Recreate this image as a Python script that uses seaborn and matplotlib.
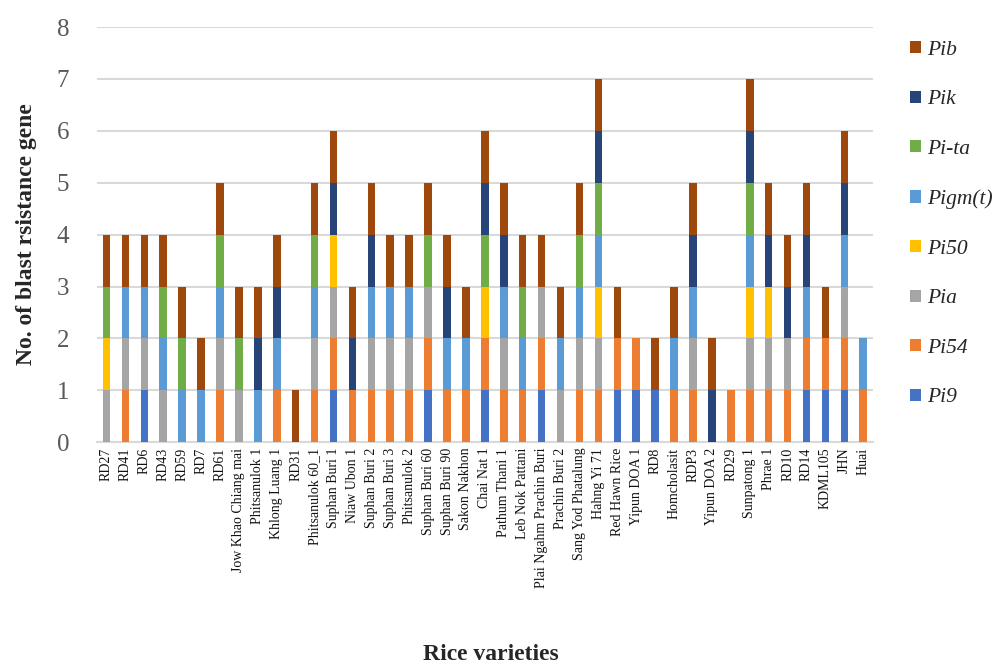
import matplotlib
matplotlib.use("Agg")
import matplotlib.pyplot as plt
from matplotlib.patches import Patch
import seaborn as sns
import pandas as pd
import numpy as np

varieties = ["RD27", "RD41", "RD6", "RD43", "RD59", "RD7", "RD61",
             "Jow Khao Chiang mai", "Phitsanulok 1", "Khlong Luang 1", "RD31",
             "Phitsanulok 60_1", "Suphan Buri 1", "Niaw Ubon 1", "Suphan Buri 2",
             "Suphan Buri 3", "Phitsanulok 2", "Suphan Buri 60", "Suphan Buri 90",
             "Sakon Nakhon", "Chai Nat 1", "Pathum Thani 1", "Leb Nok Pattani",
             "Plai Ngahm Prachin Buri", "Prachin Buri 2", "Sang Yod Phatalung",
             "Hahng Yi 71", "Red Hawn Rice", "Yipun DOA 1", "RD8", "Homcholasit",
             "RDP3", "Yipun DOA 2", "RD29", "Sunpatong 1", "Phrae 1", "RD10",
             "RD14", "KDML105", "JHN", "Huai"]

# presence (1) / absence (0) of each gene, stacked bottom -> top in this order
Pi9   = [0,0,1,0,0,0,0,0,0,0,0,0,1,0,0,0,0,1,0,0,1,0,0,1,0,0,0,1,1,1,0,0,0,0,0,0,0,1,1,1,0]
Pi54  = [0,1,0,0,0,0,1,0,0,1,0,1,1,1,1,1,1,1,1,1,1,1,1,1,0,1,1,1,1,0,1,1,0,1,1,1,1,1,1,1,1]
Pia   = [1,1,1,1,0,0,1,1,0,0,0,1,1,0,1,1,1,1,0,0,0,1,0,1,1,1,1,0,0,0,0,1,0,0,1,1,1,0,0,1,0]
Pi50  = [1,0,0,0,0,0,0,0,0,0,0,0,1,0,0,0,0,0,0,0,1,0,0,0,0,0,1,0,0,0,0,0,0,0,1,1,0,0,0,0,0]
Pigm  = [0,1,1,1,1,1,1,0,1,1,0,1,0,0,1,1,1,0,1,1,0,1,1,0,1,1,1,0,0,0,1,1,0,0,1,0,0,1,0,1,1]
Pita  = [1,0,0,1,1,0,1,1,0,0,0,1,0,0,0,0,0,1,0,0,1,0,1,0,0,1,1,0,0,0,0,0,0,0,1,0,0,0,0,0,0]
Pik   = [0,0,0,0,0,0,0,0,1,1,0,0,1,1,1,0,0,0,1,0,1,1,0,0,0,0,1,0,0,0,0,1,1,0,1,1,1,1,0,1,0]
Pib   = [1,1,1,1,1,1,1,1,1,1,1,1,1,1,1,1,1,1,1,1,1,1,1,1,1,1,1,1,0,1,1,1,1,0,1,1,1,1,1,1,0]

genes = ["Pi9", "Pi54", "Pia", "Pi50", "Pigm(t)", "Pi-ta", "Pik", "Pib"]
gene_values = [Pi9, Pi54, Pia, Pi50, Pigm, Pita, Pik, Pib]
colors = ["#4472C4", "#ED7D31", "#A5A5A5", "#FFC000", "#5B9BD5", "#70AD47", "#264478", "#9E480E"]

y_ticks = [0, 1, 2, 3, 4, 5, 6, 7, 8]

df = pd.DataFrame({g: v for g, v in zip(genes, gene_values)})
df["variety"] = varieties
cum = df[genes].cumsum(axis=1)

sns.set_theme(style="white")
plt.rcParams["font.family"] = ["Liberation Serif", "DejaVu Serif"]

fig = plt.figure(figsize=(10.02, 6.67), dpi=100)
ax = fig.add_axes([0.0968, 0.337, 0.7742, 0.6225])

# draw cumulative totals top layer first so lower layers overlay
for i in range(len(genes) - 1, -1, -1):
    sns.barplot(x=varieties, y=cum[genes[i]].values, color=colors[i],
                width=0.4, ax=ax, saturation=1, order=varieties,
                edgecolor="none", linewidth=0, zorder=3)

ax.set_ylim(0, 8)
ax.set_xlim(-0.5, len(varieties) - 0.5)
ax.set_yticks(y_ticks)
ax.set_yticklabels([str(t) for t in y_ticks], fontsize=18, color="#595959")
ax.tick_params(axis="y", length=0, pad=20)
ax.tick_params(axis="x", length=0, pad=4)
ax.set_xticks(range(len(varieties)))
ax.set_xticklabels(varieties, rotation=90, fontsize=10, color="#111111")
ax.yaxis.grid(True, color="#D9D9D9", linewidth=1.5, zorder=0)
ax.set_axisbelow(True)
for s in ["top", "right", "left"]:
    ax.spines[s].set_visible(False)
ax.spines["bottom"].set_color("#D9D9D9")
ax.spines["bottom"].set_linewidth(1.5)

ax.set_ylabel("No. of blast rsistance gene", fontsize=17, fontweight="bold", labelpad=14)
ax.set_xlabel("")
fig.text(0.49, 0.003, "Rice varieties", ha="center", va="bottom",
         fontsize=17, fontweight="bold")

handles = [Patch(facecolor=colors[i], edgecolor="none") for i in range(len(genes) - 1, -1, -1)]
labels = [genes[i] for i in range(len(genes) - 1, -1, -1)]
leg = fig.legend(handles, labels, loc="center left", bbox_to_anchor=(0.893, 0.664),
                 frameon=False, prop={"family": "Liberation Serif", "style": "italic", "size": 15.5},
                 handlelength=0.5, handleheight=0.5, handletextpad=0.3, labelspacing=1.42,
                 borderpad=0.2)

fig.savefig("out.png", dpi=100)
